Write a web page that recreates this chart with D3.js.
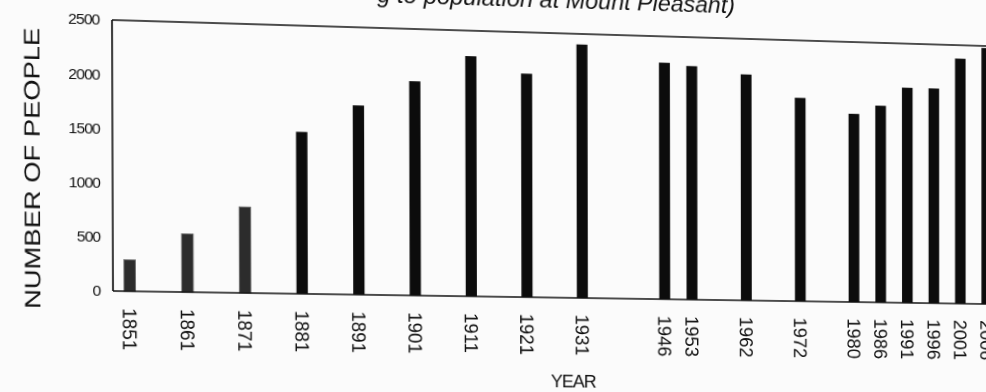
<!DOCTYPE html>
<html>
<head>
<meta charset="utf-8">
<script src="https://cdn.jsdelivr.net/npm/d3@7"></script>
<style>
  html, body { margin: 0; padding: 0; background: #fbfbfb; overflow: hidden; width: 986px; height: 392px; }
  #warp { position: absolute; left: 0; top: 0; transform-origin: 0 0; }
  svg { overflow: visible; }
  text { font-family: "Liberation Sans", Arial, Helvetica, sans-serif; fill: #111; }
</style>
</head>
<body>
<div id="warp"></div>
<script>
// ---- data ----
const years = ["1851","1861","1871","1881","1891","1901","1911","1921","1931","1946","1953","1962","1972","1980","1986","1991","1996","2001","2006"];
const population = [290, 540, 800, 1510, 1770, 2010, 2260, 2110, 2400, 2250, 2225, 2160, 1950, 1810, 1895, 2075, 2075, 2370, 2480];
// x-axis slots as laid out on the original category axis (blank slots are unlabelled gaps)
const xSlots = ["1851","g1","1861","g2","1871","g3","1881","g4","1891","g5","1901","g6","1911","g7","1921","g8","1931","g9","g10",
                "1946","1953","g11","1962","g12","1972","g13","1980","1986","1991","1996","2001","2006"];
const yTicks = [0, 500, 1000, 1500, 2000, 2500];
const titleText = "g to population at Mount Pleasant)";
const yTitle = "NUMBER OF PEOPLE";
const xTitle = "YEAR";
const earlyYears = ["1851","1861","1871"];

(function () {
// ---- layout (flat) ----
const W = 1012, Hh = 400;
const pL = 112, pT = 20, pB = 291, pR = 1012;

const svg = d3.select("#warp").append("svg").attr("width", W).attr("height", Hh);

const x = d3.scaleBand().domain(xSlots).range([114.15, 1000.55]).paddingInner(0.6).paddingOuter(0.3);
const y = d3.scaleLinear().domain([0, 2500]).range([pB, pT]);

// bars
svg.append("g").selectAll("rect").data(years).join("rect")
  .attr("x", d => x(d))
  .attr("width", x.bandwidth())
  .attr("y", (d, i) => y(population[i]))
  .attr("height", (d, i) => y(0) - y(population[i]))
  .attr("fill", d => earlyYears.includes(d) ? "#2c2c2c" : "#0c0c0c")
  .attr("stroke", d => earlyYears.includes(d) ? "#6a6a6a" : "none")
  .attr("stroke-width", 0.8);

// frame
const frame = svg.append("g").attr("stroke", "#111").attr("stroke-width", 1.6).attr("fill", "none");
frame.append("line").attr("x1", pL).attr("x2", pL).attr("y1", pT).attr("y2", pB);
frame.append("line").attr("x1", pL).attr("x2", pR).attr("y1", pB).attr("y2", pB);
frame.append("line").attr("x1", pL).attr("x2", pR).attr("y1", pT).attr("y2", pT);

// y axis (labels only)
const yAxis = d3.axisLeft(y).tickValues(yTicks).tickSize(0).tickPadding(12).tickFormat(d3.format("d"));
const gy = svg.append("g").attr("transform", `translate(${pL},0)`).call(yAxis);
gy.select(".domain").remove();
gy.selectAll("text").style("font-size", "15px").style("letter-spacing", "-0.9px")
  .style("font-family", "'Liberation Sans', Arial, sans-serif").attr("fill", "#222");

// x axis (rotated labels)
const xAxis = d3.axisBottom(x).tickValues(years).tickSize(0).tickPadding(0);
const gx = svg.append("g").attr("transform", `translate(0,${pB})`).call(xAxis);
gx.select(".domain").remove();
gx.selectAll("text")
  .style("font-size", "19px").style("font-family", "'Liberation Sans', Arial, sans-serif").attr("fill", "#222")
  .attr("text-anchor", "start")
  .attr("y", 0).attr("dy", "0.35em")
  .attr("transform", "translate(0,17) rotate(90)");

// titles
svg.append("text").attr("x", 726).attr("y", -6.5).attr("text-anchor", "end")
  .style("font-size", "23.5px").style("font-style", "italic").text(titleText);

svg.append("text").attr("transform", "translate(43,170) rotate(-90)")
  .attr("text-anchor", "middle").style("font-size", "21px")
  .attr("textLength", 280).attr("lengthAdjust", "spacingAndGlyphs").text(yTitle);

svg.append("text").attr("x", 562).attr("y", 383).attr("text-anchor", "middle")
  .style("font-size", "18px").style("letter-spacing", "-1px").text(xTitle);

// ---- perspective of the scanned page ----
function homography(src, dst) {
  const A = [], b = [];
  for (let i = 0; i < 4; i++) {
    const [sx, sy] = src[i], [dx, dy] = dst[i];
    A.push([sx, sy, 1, 0, 0, 0, -sx * dx, -sy * dx]); b.push(dx);
    A.push([0, 0, 0, sx, sy, 1, -sx * dy, -sy * dy]); b.push(dy);
  }
  const n = 8;
  for (let c = 0; c < n; c++) {
    let p = c;
    for (let r = c + 1; r < n; r++) if (Math.abs(A[r][c]) > Math.abs(A[p][c])) p = r;
    [A[c], A[p]] = [A[p], A[c]]; [b[c], b[p]] = [b[p], b[c]];
    for (let r = 0; r < n; r++) {
      if (r === c) continue;
      const f = A[r][c] / A[c][c];
      for (let k = c; k < n; k++) A[r][k] -= f * A[c][k];
      b[r] -= f * b[c];
    }
  }
  return b.map((v, i) => v / A[i][i]);
}
const h = homography(
  [[112, 20], [986, 20], [986, 291], [112, 291]],
  [[112, 20], [986, 46], [986, 304], [113, 291]]
);
document.getElementById("warp").style.transform =
  `matrix3d(${h[0]},${h[3]},0,${h[6]},${h[1]},${h[4]},0,${h[7]},0,0,1,0,${h[2]},${h[5]},0,1)`;
})();
</script>
</body>
</html>
